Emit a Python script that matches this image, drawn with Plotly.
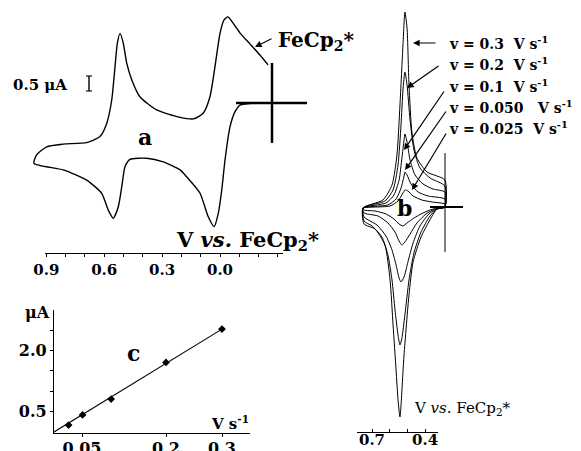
import plotly.graph_objects as go

W, H = 581, 451
OFF = 8  # page body margin: figure pixel 0 sits at screen pixel 8
FONT = "DejaVu Serif"

# ---------------- data ----------------
# panel a: cyclic voltammogram (potential in V vs FeCp2*, current in uA)
a_E = [-0.249, -0.207, -0.155, -0.104, -0.067, -0.041, -0.021, 0.000, 0.026, 0.052, 0.087, 0.138, 0.207,
       0.328, 0.415, 0.457, 0.483, 0.501, 0.518, 0.532, 0.544, 0.561, 0.587, 0.622, 0.691, 0.812, 0.898,
       0.950, 0.964,
       0.812, 0.691, 0.613, 0.579, 0.553, 0.527, 0.509, 0.492, 0.466, 0.380, 0.294, 0.207, 0.173, 0.104,
       0.061, 0.030, 0.009, -0.009, -0.026, -0.052, -0.078, -0.104, -0.181, -0.269]
a_I = [1.27, 1.60, 1.97, 2.33, 2.67, 2.87, 2.77, 2.32, 1.21, 0.21, -0.34, -0.53, -0.48,
       -0.23, 0.21, 0.77, 1.32, 1.99, 2.32, 1.99, 1.21, 0.10, -0.68, -1.12, -1.32, -1.37, -1.46,
       -1.73, -2.01,
       -2.23, -2.57, -3.01, -3.57, -3.84, -3.46, -2.79, -2.12, -1.88, -1.84, -1.96, -2.23, -2.46, -3.00,
       -3.79, -4.12, -3.68, -2.90, -1.90, -0.79, -0.29, -0.07, 0.00, 0.00]

# panel b: CVs at several scan rates (closed loops)
scan_rates = ["0.3", "0.2", "0.1", "0.050", "0.025"]
b_E_03 = [0.751, 0.638, 0.587, 0.559, 0.542, 0.525, 0.514, 0.502, 0.491, 0.474, 0.446, 0.389, 0.288,
          0.288, 0.333, 0.367, 0.423, 0.468, 0.491, 0.519, 0.536, 0.542, 0.553, 0.564, 0.581, 0.598,
          0.627, 0.683, 0.745, 0.751]
b_I_03 = [-0.013, 0.093, 0.293, 0.693, 1.36, 2.16, 2.60, 2.387, 1.627, 0.987, 0.653, 0.467, 0.36,
          0.0, -0.027, -0.147, -0.40, -0.733, -1.173, -1.973, -2.64, -2.80, -2.573, -2.173, -1.573, -0.973,
          -0.507, -0.293, -0.227, -0.013]
b_E_02 = [0.751, 0.627, 0.581, 0.553, 0.536, 0.525, 0.514, 0.502, 0.485, 0.463, 0.429, 0.372, 0.288,
          0.288, 0.333, 0.372, 0.423, 0.463, 0.491, 0.514, 0.531, 0.542, 0.553, 0.570, 0.587, 0.610,
          0.644, 0.700, 0.745, 0.751]
b_I_02 = [-0.013, 0.08, 0.227, 0.56, 1.093, 1.56, 1.80, 1.627, 1.16, 0.76, 0.52, 0.387, 0.28,
          0.0, -0.027, -0.12, -0.333, -0.613, -0.973, -1.44, -1.747, -1.84, -1.707, -1.373, -0.973, -0.64,
          -0.40, -0.253, -0.187, -0.013]
b_E_01 = [0.751, 0.621, 0.576, 0.547, 0.531, 0.519, 0.514, 0.502, 0.485, 0.457, 0.412, 0.355, 0.288,
          0.288, 0.333, 0.378, 0.429, 0.468, 0.497, 0.519, 0.536, 0.547, 0.564, 0.587, 0.621, 0.672,
          0.745, 0.751]
b_I_01 = [-0.013, 0.053, 0.16, 0.36, 0.653, 0.893, 0.973, 0.867, 0.627, 0.427, 0.307, 0.24, 0.20,
          0.0, -0.027, -0.093, -0.253, -0.48, -0.733, -0.933, -1.0, -0.947, -0.773, -0.573, -0.387, -0.24,
          -0.133, -0.013]
b_E_005 = [0.751, 0.610, 0.564, 0.536, 0.519, 0.514, 0.502, 0.480, 0.440, 0.384, 0.288,
           0.288, 0.344, 0.395, 0.446, 0.485, 0.514, 0.531, 0.547, 0.570, 0.610, 0.666, 0.745, 0.751]
b_I_005 = [-0.013, 0.027, 0.107, 0.253, 0.413, 0.467, 0.427, 0.307, 0.20, 0.147, 0.107,
           0.0, -0.027, -0.093, -0.213, -0.36, -0.467, -0.507, -0.453, -0.333, -0.213, -0.12, -0.08, -0.013]
b_E_0025 = [0.751, 0.598, 0.553, 0.525, 0.514, 0.497, 0.468, 0.418, 0.361, 0.288,
            0.288, 0.355, 0.412, 0.463, 0.502, 0.525, 0.547, 0.576, 0.621, 0.683, 0.745, 0.751]
b_I_0025 = [-0.013, 0.013, 0.08, 0.187, 0.227, 0.213, 0.147, 0.093, 0.067, 0.04,
            0.0, -0.027, -0.08, -0.147, -0.213, -0.253, -0.227, -0.16, -0.093, -0.053, -0.04, -0.013]
b_E = [b_E_03, b_E_02, b_E_01, b_E_005, b_E_0025]
b_I = [b_I_03, b_I_02, b_I_01, b_I_005, b_I_0025]

# panel c: peak current vs scan rate
c_v = [0.026, 0.051, 0.102, 0.200, 0.300]
c_ip = [0.17, 0.42, 0.81, 1.71, 2.53]
c_fit_v = [0.0, 0.300]
c_fit_ip = [0.0, 2.53]

a_ticks = [0.9, 0.6, 0.3, 0.0]
a_ticklabels = ["0.9", "0.6", "0.3", "0.0"]
a_minor = [0.8, 0.7, 0.5, 0.4, 0.2, 0.1, -0.1, -0.2, -0.3]
b_ticks = [0.7, 0.4]
b_ticklabels = ["0.7", "0.4"]
b_minor = [0.6, 0.5]
c_xticks = [0.05, 0.2, 0.3]
c_xticklabels = ["0.05", "0.2", "0.3"]
c_yticks = [0.5, 2.0]
c_yticklabels = ["0.5", "2.0"]
c_yminor = [1.0, 1.5, 2.5]

# ---------------- geometry (screen-pixel scales) ----------------
A_E0_PX, A_PX_PER_V, A_I0_PX, A_PX_PER_UA = 220.0, 193.0, 103.0, 30.0
B_E_REF, B_E_REF_PX, B_PX_PER_V, B_I0_PX, B_PX_PER_UA = 0.7, 372.0, 177.0, 207.0, 75.0


def fx(px):
    return (px - OFF) / W


def fy(py):
    return 1 - (py - OFF) / H


def a_x(px):
    return (A_E0_PX - px) / A_PX_PER_V


def a_y(py):
    return (A_I0_PX - py) / A_PX_PER_UA


def b_x(px):
    return B_E_REF - (px - B_E_REF_PX) / B_PX_PER_V


def b_y(py):
    return (B_I0_PX - py) / B_PX_PER_UA


fig = go.Figure()

fig.add_trace(go.Scatter(x=a_E, y=a_I, mode="lines", xaxis="x", yaxis="y",
                         line=dict(color="black", width=1.4, shape="spline", smoothing=0.6),
                         hoverinfo="skip", showlegend=False))
for E, I in zip(b_E, b_I):
    fig.add_trace(go.Scatter(x=E, y=I, mode="lines", xaxis="x2", yaxis="y2",
                             line=dict(color="black", width=1.0, shape="spline", smoothing=0.6),
                             hoverinfo="skip", showlegend=False))

# invisible anchors for the scale axes
fig.add_trace(go.Scatter(x=[0.5], y=[0.5], xaxis="x3", yaxis="y3", mode="markers",
                         marker=dict(opacity=0), hoverinfo="skip", showlegend=False))
fig.add_trace(go.Scatter(x=[0.5], y=[0.5], xaxis="x4", yaxis="y4", mode="markers",
                         marker=dict(opacity=0), hoverinfo="skip", showlegend=False))

fig.add_trace(go.Scatter(x=c_fit_v, y=c_fit_ip, mode="lines", xaxis="x5", yaxis="y5",
                         line=dict(color="black", width=1.1), hoverinfo="skip", showlegend=False))
fig.add_trace(go.Scatter(x=c_v, y=c_ip, mode="markers", xaxis="x5", yaxis="y5",
                         marker=dict(color="black", size=6, symbol="diamond"),
                         hoverinfo="skip", showlegend=False))

hidden = dict(visible=False, showgrid=False, zeroline=False, automargin=False)


def scale_axis(size, ticks, ticklen, minor_vals, standoff=0):
    d = dict(showline=True, linecolor="black", linewidth=1.2, ticks=ticks, ticklen=ticklen,
             tickwidth=1.1, tickcolor="black", showgrid=False, zeroline=False, automargin=False,
             ticklabelstandoff=standoff,
             tickfont=dict(family=FONT, size=size, color="black"))
    if minor_vals:
        d["minor"] = dict(tickvals=minor_vals, ticks=ticks, ticklen=ticklen, tickwidth=1.1,
                          tickcolor="black", showgrid=False)
    return d


fig.update_layout(
    width=W, height=H, margin=dict(l=0, r=0, t=0, b=0, autoexpand=False),
    paper_bgcolor="white", plot_bgcolor="rgba(0,0,0,0)", showlegend=False,
    xaxis=dict(domain=[0, 1], range=[a_x(OFF), a_x(OFF + W)], anchor="y", **hidden),
    yaxis=dict(domain=[0, 1], range=[a_y(OFF + H), a_y(OFF)], anchor="x", **hidden),
    xaxis2=dict(domain=[0, 1], range=[b_x(OFF), b_x(OFF + W)], anchor="y2", **hidden),
    yaxis2=dict(domain=[0, 1], range=[b_y(OFF + H), b_y(OFF)], anchor="x2", **hidden),
    xaxis3=dict(domain=[fx(45), fx(283)], range=[a_x(45), a_x(283)], anchor="y3",
                tickvals=a_ticks, ticktext=["<b>%s</b>" % t for t in a_ticklabels],
                **scale_axis(15, "outside", 3, a_minor)),
    yaxis3=dict(domain=[fy(253), fy(240)], range=[0, 1], anchor="x3", **hidden),
    xaxis4=dict(domain=[fx(357), fx(438)], range=[b_x(357), b_x(438)], anchor="y4",
                tickvals=b_ticks, ticktext=["<b>%s</b>" % t for t in b_ticklabels],
                **scale_axis(15, "inside", 3, b_minor, standoff=-6)),
    yaxis4=dict(domain=[fy(432), fy(420)], range=[0, 1], anchor="x4", **hidden),
    xaxis5=dict(domain=[fx(54), fx(250)], range=[0, 0.35], anchor="y5",
                tickvals=c_xticks, ticktext=["<b>%s</b>" % t for t in c_xticklabels],
                **scale_axis(16, "outside", 3, None, standoff=-2)),
    yaxis5=dict(domain=[fy(433), fy(310)], range=[-0.025, 3.0], anchor="x5",
                tickvals=c_yticks, ticktext=["<b>%s</b>" % t for t in c_yticklabels],
                **scale_axis(16, "outside", 3, c_yminor)),
)

shapes = []
# panel a crosshair
shapes.append(dict(type="line", xref="x", yref="y", x0=a_x(272), x1=a_x(272), y0=a_y(63), y1=a_y(143),
                   line=dict(color="black", width=2.5)))
shapes.append(dict(type="line", xref="x", yref="y", x0=a_x(236), x1=a_x(307), y0=0, y1=0,
                   line=dict(color="black", width=2.5)))
# panel a current scale bar (0.5 uA)
bar_x = a_x(89)
bar_top = a_y(76)
shapes.append(dict(type="line", xref="x", yref="y", x0=bar_x, x1=bar_x, y0=bar_top, y1=bar_top - 0.5,
                   line=dict(color="black", width=1.4)))
for yy in (bar_top, bar_top - 0.5):
    shapes.append(dict(type="line", xref="x", yref="y", x0=a_x(86), x1=a_x(92), y0=yy, y1=yy,
                       line=dict(color="black", width=1.1)))
# panel b crosshair
shapes.append(dict(type="line", xref="x2", yref="y2", x0=b_x(445), x1=b_x(445), y0=b_y(153), y1=b_y(252),
                   line=dict(color="black", width=1.0)))
shapes.append(dict(type="line", xref="x2", yref="y2", x0=b_x(430), x1=b_x(463), y0=0, y1=0,
                   line=dict(color="black", width=2.0)))
fig.update_layout(shapes=shapes)

ann = []


def text(px, py, s, size, anchor="left", bold=True):
    ann.append(dict(xref="paper", yref="paper", x=fx(px), y=fy(py), text=("<b>%s</b>" % s) if bold else s,
                    showarrow=False, xanchor=anchor, yanchor="middle",
                    font=dict(family=FONT, size=size, color="black")))


def arrow(hx, hy, tx, ty):
    ann.append(dict(xref="paper", yref="paper", x=fx(hx), y=fy(hy), ax=tx - hx, ay=ty - hy, text="",
                    showarrow=True, arrowhead=2, arrowsize=1.1, arrowwidth=1.2, arrowcolor="black"))


NB = "\u00a0"
text(174, 240, "V <i>vs.</i> FeCp<sub>2</sub>*", 21)
text(276, 41, "FeCp<sub>2</sub>*", 20)
text(11, 85, "0.5 \u03bcA", 15)
text(145, 137, "a", 22, anchor="center")
text(404, 208, "b", 22, anchor="center")
text(133, 353, "c", 22, anchor="center")
text(412, 408, "V <i>vs.</i> FeCp<sub>2</sub>*", 15, bold=False)
text(37, 312, "\u03bcA", 16, anchor="center")
text(251, 423, "V s<sup>-1</sup>", 15, anchor="right")
rows_y = [43, 64, 86, 107, 128]
for r, yy in zip(scan_rates, rows_y):
    gap = NB * 3 if r == "0.050" else NB * 2
    text(447, yy, "v = %s%sV s<sup>-1</sup>" % (r, gap), 14)

arrow(255, 47, 273, 38)
arrow(413, 43, 437, 43)
arrow(407, 88, 440, 65)
arrow(404, 150, 445, 90)
arrow(405, 170, 447, 110)
arrow(412, 190, 447, 132)
fig.update_layout(annotations=ann)

fig.write_html("out.html")
